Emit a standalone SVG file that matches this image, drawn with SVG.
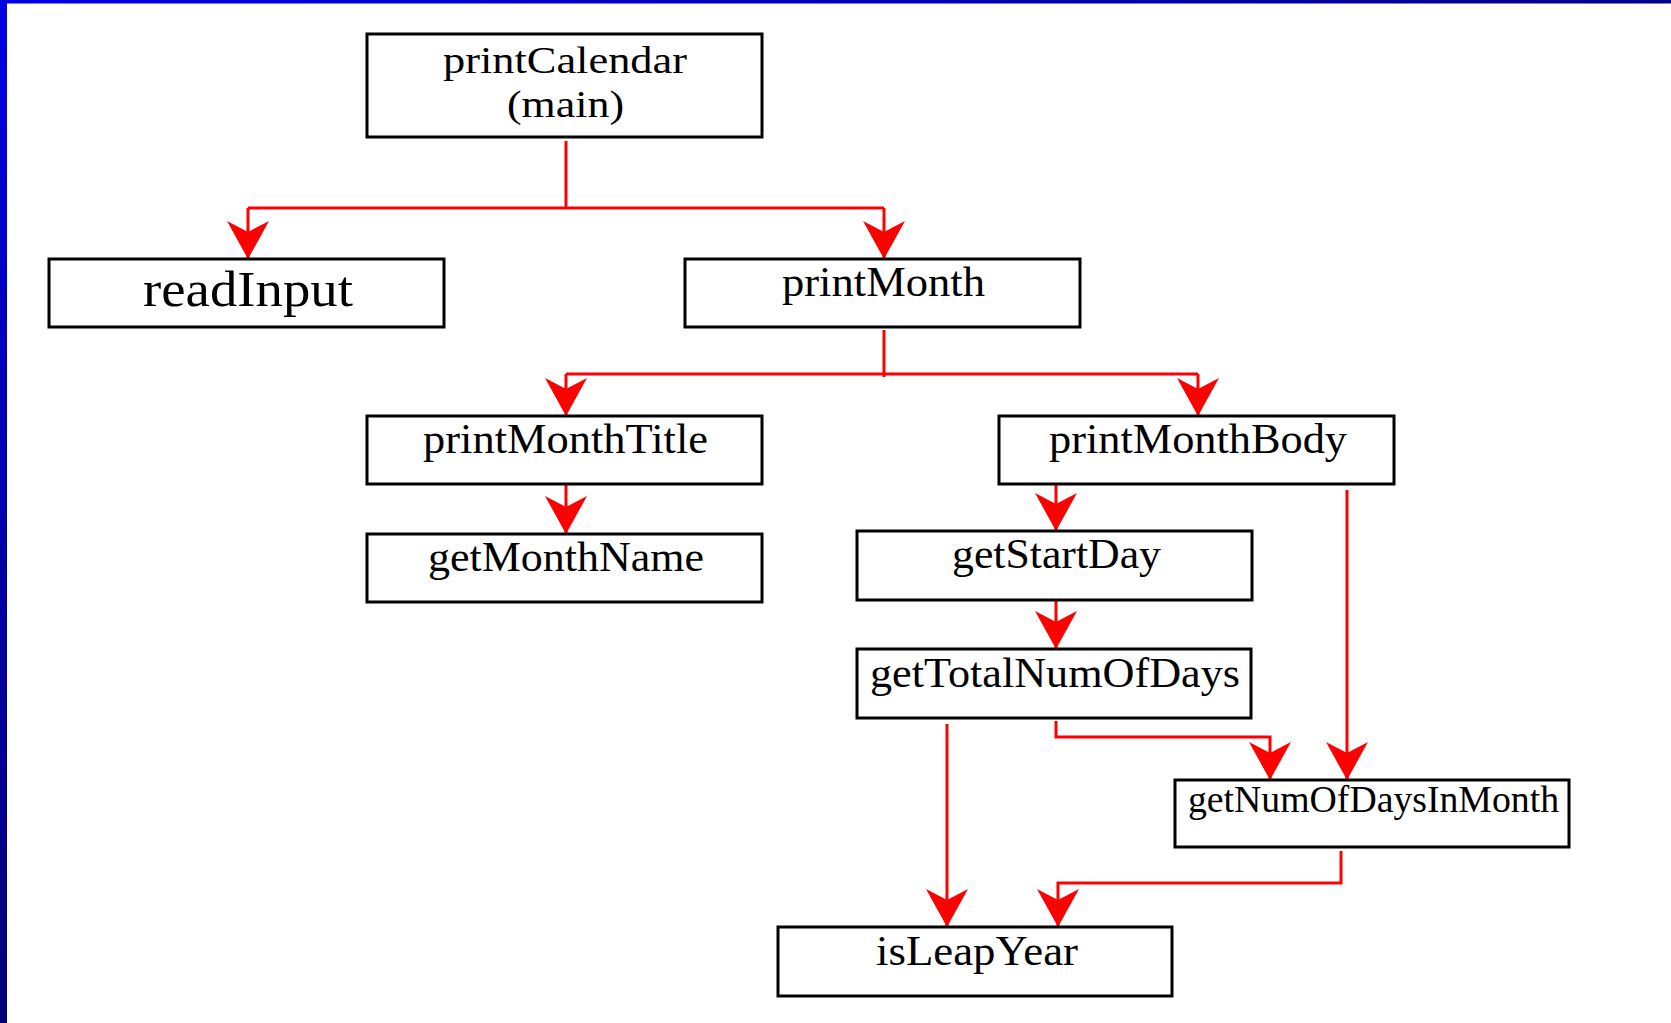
<svg xmlns="http://www.w3.org/2000/svg" width="1671" height="1023" viewBox="0 0 1671 1023">
<defs>
<linearGradient id="gTop" x1="0" y1="0" x2="1" y2="0"><stop offset="0" stop-color="#0000e8"/><stop offset="1" stop-color="#000090"/></linearGradient>
<linearGradient id="gLeft" x1="0" y1="0" x2="0" y2="1"><stop offset="0" stop-color="#0000e0"/><stop offset="1" stop-color="#000078"/></linearGradient>
<marker id="ah" markerUnits="userSpaceOnUse" markerWidth="40" markerHeight="44" viewBox="-39 -22 40 44" refX="0" refY="0" orient="auto">
<path d="M0,0 L-38,-21 L-27,0 L-38,21 Z" fill="#ff0000"/>
</marker>
</defs>
<style>
.box{fill:#ffffff;stroke:#000000;stroke-width:3}
.lbl{font-family:"Liberation Serif","Times New Roman",serif;font-size:42px;fill:#000000}
.con{fill:none;stroke:#ff0000;stroke-width:3}
</style>
<rect x="0" y="0" width="1671" height="1023" fill="#ffffff"/>
<rect x="0" y="0" width="1671" height="3.5" fill="url(#gTop)"/>
<rect x="0" y="0" width="7" height="1023" fill="url(#gLeft)"/>

<g id="connectors">
<path class="con" d="M566,141 V208"/>
<path class="con" d="M248,208 H884"/>
<path class="con" d="M248,208 V259" marker-end="url(#ah)"/>
<path class="con" d="M884,208 V259" marker-end="url(#ah)"/>
<path class="con" d="M884,330 V377"/>
<path class="con" d="M566,374 H1198"/>
<path class="con" d="M566,374 V416" marker-end="url(#ah)"/>
<path class="con" d="M1198,374 V416" marker-end="url(#ah)"/>
<path class="con" d="M566,484 V534" marker-end="url(#ah)"/>
<path class="con" d="M1056,484 V531" marker-end="url(#ah)"/>
<path class="con" d="M1056,600 V649" marker-end="url(#ah)"/>
<path class="con" d="M1347,490 V780" marker-end="url(#ah)"/>
<path class="con" d="M1056,721 V737 H1270 V780" marker-end="url(#ah)"/>
<path class="con" d="M947,724 V927" marker-end="url(#ah)"/>
<path class="con" d="M1341,851 V883 H1058 V927" marker-end="url(#ah)"/>
</g>

<g id="printCalendar">
<rect class="box" x="367" y="34" width="395" height="103"/>
<text class="lbl" x="443" y="73" style="font-size:38px" textLength="244" lengthAdjust="spacingAndGlyphs">printCalendar</text>
<text class="lbl" x="507" y="117" style="font-size:38px" textLength="117" lengthAdjust="spacingAndGlyphs">(main)</text>
</g>
<g id="readInput">
<rect class="box" x="49" y="259" width="395" height="68"/>
<text class="lbl" x="143" y="306" style="font-size:50px" textLength="210" lengthAdjust="spacingAndGlyphs">readInput</text>
</g>
<g id="printMonth">
<rect class="box" x="685" y="259" width="395" height="68"/>
<text class="lbl" x="782" y="296" textLength="203" lengthAdjust="spacingAndGlyphs">printMonth</text>
</g>
<g id="printMonthTitle">
<rect class="box" x="367" y="416" width="395" height="68"/>
<text class="lbl" x="423" y="453" textLength="285" lengthAdjust="spacingAndGlyphs">printMonthTitle</text>
</g>
<g id="getMonthName">
<rect class="box" x="367" y="534" width="395" height="68"/>
<text class="lbl" x="428" y="571" textLength="276" lengthAdjust="spacingAndGlyphs">getMonthName</text>
</g>
<g id="printMonthBody">
<rect class="box" x="999" y="416" width="395" height="68"/>
<text class="lbl" x="1049" y="453" textLength="298" lengthAdjust="spacingAndGlyphs">printMonthBody</text>
</g>
<g id="getStartDay">
<rect class="box" x="857" y="531" width="395" height="69"/>
<text class="lbl" x="952" y="568" textLength="209" lengthAdjust="spacingAndGlyphs">getStartDay</text>
</g>
<g id="getTotalNumOfDays">
<rect class="box" x="857" y="649" width="394" height="69"/>
<text class="lbl" x="870" y="687" textLength="370" lengthAdjust="spacingAndGlyphs">getTotalNumOfDays</text>
</g>
<g id="getNumOfDaysInMonth">
<rect class="box" x="1175" y="780" width="394" height="67"/>
<text class="lbl" x="1188" y="812" style="font-size:38px" textLength="371" lengthAdjust="spacingAndGlyphs">getNumOfDaysInMonth</text>
</g>
<g id="isLeapYear">
<rect class="box" x="778" y="927" width="394" height="69"/>
<text class="lbl" x="876" y="965" textLength="202" lengthAdjust="spacingAndGlyphs">isLeapYear</text>
</g>
</svg>
